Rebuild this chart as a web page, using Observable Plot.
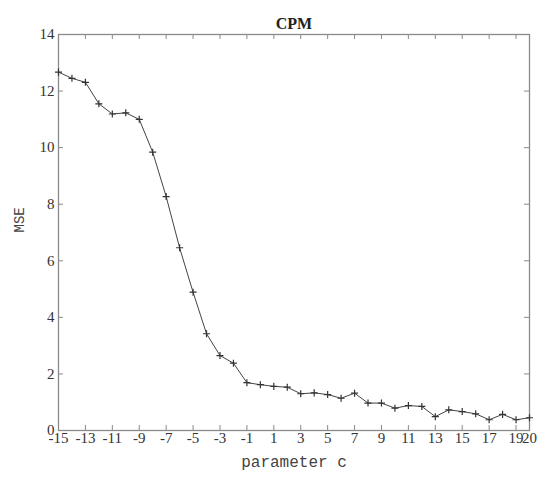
<!DOCTYPE html>
<html>
<head>
<meta charset="utf-8">
<script src="https://cdn.jsdelivr.net/npm/d3@7"></script>
<script src="https://cdn.jsdelivr.net/npm/@observablehq/plot@0.6"></script>
<style>
  html, body { margin: 0; padding: 0; background: #fff; }
</style>
</head>
<body>
<div id="chart"></div>
<script>
const cValues = [-15,-14,-13,-12,-11,-10,-9,-8,-7,-6,-5,-4,-3,-2,-1,0,1,2,3,4,5,6,7,8,9,10,11,12,13,14,15,16,17,18,19,20];
const mseValues = [12.67,12.45,12.31,11.55,11.19,11.23,11.0,9.84,8.27,6.46,4.89,3.42,2.65,2.38,1.69,1.62,1.56,1.53,1.30,1.33,1.27,1.14,1.32,0.97,0.97,0.79,0.88,0.85,0.49,0.73,0.67,0.59,0.38,0.57,0.38,0.45];
const xTicks = [-15,-13,-11,-9,-7,-5,-3,-1,1,3,5,7,9,11,13,15,17,19,20];
const yTicks = [0,2,4,6,8,10,12,14];
const titleText = "CPM";
const xLabel = "parameter c";
const yLabel = "MSE";

const data = cValues.map((c, i) => ({c, mse: mseValues[i]}));
const axisColor = "#8a8a8a";

const chart = Plot.plot({
  width: 538,
  height: 477,
  marginLeft: 58,
  marginRight: 9,
  marginTop: 34,
  marginBottom: 47,
  x: {domain: [-15, 20]},
  y: {domain: [0, 14]},
  style: {fontFamily: "'Liberation Serif', serif", fontSize: "15px", color: "#333", background: "#fff"},
  marks: [
    Plot.frame({stroke: axisColor, strokeWidth: 1.3}),
    Plot.tickX(xTicks, {x: d => d, insetTop: 391, stroke: axisColor}),
    Plot.tickX(xTicks, {x: d => d, insetBottom: 391, stroke: axisColor}),
    Plot.tickY(yTicks, {y: d => d, insetLeft: 466, stroke: axisColor}),
    Plot.tickY(yTicks, {y: d => d, insetRight: 466, stroke: axisColor}),
    Plot.axisX({ticks: xTicks, tickSize: 0, tickPadding: 2, label: null, tickFormat: d => String(d)}),
    Plot.axisY({ticks: yTicks, tickSize: 0, tickPadding: 4, label: null, tickFormat: d => String(d)}),
    Plot.line(data, {x: "c", y: "mse", stroke: "#444", strokeWidth: 1}),
    Plot.dot(data, {x: "c", y: "mse", symbol: "plus", r: 2.4, stroke: "#333", strokeWidth: 1.2}),
    Plot.text([titleText], {frameAnchor: "top", dy: -17, fontWeight: "bold", fontSize: 16, fill: "#222"}),
    Plot.text([xLabel], {frameAnchor: "bottom", dy: 36, fontFamily: "'Liberation Mono', monospace", fontSize: 16, fill: "#444"}),
    Plot.text([yLabel], {frameAnchor: "left", dx: -39, rotate: -90, fontFamily: "'Liberation Mono', monospace", fontSize: 14, fill: "#444"})
  ]
});
document.getElementById("chart").append(chart);
</script>
</body>
</html>
